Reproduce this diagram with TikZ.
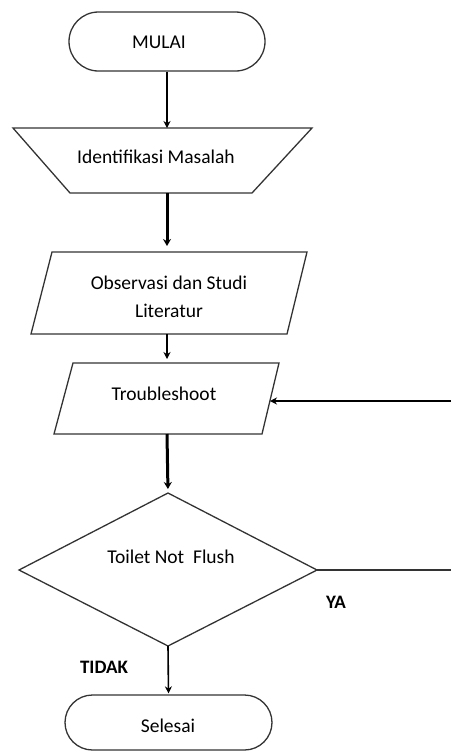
\documentclass[tikz,border=0pt]{standalone}
\usepackage{fontspec}
\setmainfont{Carlito}
\usetikzlibrary{shapes.misc,arrows.meta}
\begin{document}
\begin{tikzpicture}[x=1pt,y=-1pt,
  outl/.style={draw=black!80, line width=1.3pt, line join=miter},
  lbl/.style={font=\fontsize{19.5}{28}\selectfont, text=black, align=center, inner sep=0pt},
  blbl/.style={font=\bfseries\fontsize{19}{22}\selectfont, text=black, inner sep=0pt},
  thinarr/.style={draw=black, line width=1.6pt, -{Stealth[length=7pt,width=7pt]}},
  thickarr/.style={draw=black, line width=3pt, -{Stealth[length=7pt,width=8pt]}},
  plainln/.style={draw=black!80, line width=1.8pt}]
\useasboundingbox (0,0) rectangle (451,753);

% terminators
\node[outl, rounded rectangle, minimum width=196pt, minimum height=59pt, inner sep=0pt] (start) at (167,41.5) {};
\node[outl, rounded rectangle, minimum width=207pt, minimum height=55pt, inner sep=0pt] (stop) at (168.5,722.5) {};

% trapezoid
\draw[outl] (13,128) -- (312,128) -- (252,193) -- (70,193) -- cycle;
\coordinate (idTop) at (167,128);
\coordinate (idBot) at (167,193);

% parallelogram Observasi
\draw[outl] (52,252) -- (307,252) -- (287,334) -- (31,334) -- cycle;
\coordinate (obTop) at (167,252);
\coordinate (obBot) at (167,334);

% parallelogram Troubleshoot
\draw[outl] (73,363) -- (279,363) -- (262,434) -- (54,434) -- cycle;
\coordinate (tsTop) at (167,363);
\coordinate (tsBot) at (167,434);
\coordinate (tsR) at (270,401);

% diamond
\draw[outl] (168,493) -- (317,570) -- (168,646) -- (19,570) -- cycle;
\coordinate (dT) at (168,493);
\coordinate (dR) at (317,570);
\coordinate (dB) at (168,646);

\coordinate (rIn) at (451,401);
\coordinate (rOut) at (451,570);

% texts
\node[lbl, anchor=base] (tStart) at (159,48) {MULAI};
\node[lbl, anchor=base] (tId) at (156,163) {Identifikasi Masalah};
\node[lbl, anchor=base] (tOb) at (169,317) {Observasi dan Studi\\Literatur};
\node[lbl, anchor=base] (tTs) at (164,400) {Troubleshoot};
\node[lbl, anchor=base] (tDec) at (171,563) {Toilet Not\ \ Flush};
\node[lbl, anchor=base] (tStop) at (168,732) {Selesai};
\node[blbl, anchor=base] (ya) at (336,608) {YA};
\node[blbl, anchor=base] (tidak) at (104,673) {TIDAK};

% connectors
\draw[thinarr] (start.south) -- (idTop);
\draw[thickarr, shorten >=6pt] (idBot) -- (obTop);
\draw[thinarr, shorten >=4pt] (obBot) -- (tsTop);
\draw[thickarr, shorten >=4pt] (tsBot) -- (dT);
\draw[thinarr, shorten >=1pt] (dB) -- (stop.north);
\draw[plainln] (dR) -- (rOut);
\draw[thinarr, line width=1.8pt] (rIn) -- (tsR);
\end{tikzpicture}
\end{document}
